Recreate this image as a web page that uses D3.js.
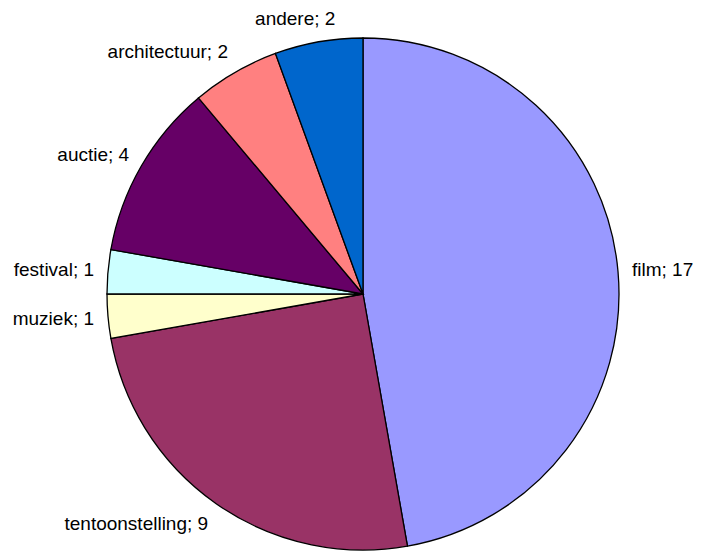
<head>
    <script src="https://cdnjs.cloudflare.com/ajax/libs/d3/7.8.5/d3.min.js"></script>
    <style>
        body { margin: 0; background: #fff; }
        .slice { stroke: #000; stroke-width: 1.3; }
        .label { font-family: "Liberation Sans", Arial, sans-serif; font-size: 19px; fill: #000; }
    </style>
</head>

<body>
    <div id="chart"></div>

    <script>
        const categories = ['film', 'tentoonstelling', 'muziek', 'festival', 'auctie', 'architectuur', 'andere'];
        const values = [17, 9, 1, 1, 4, 2, 2];
        const colors = ['#9999FF', '#993366', '#FFFFCC', '#CCFFFF', '#660066', '#FF8080', '#0066CC'];

        const width = 701;
        const height = 551;
        const cx = 363, cy = 294, radius = 256;
        const labelRadius = 270;

        const data = categories.map((c, i) => ({ name: c, value: values[i], color: colors[i] }));

        const svg = d3.select('#chart').append('svg')
            .attr('width', width)
            .attr('height', height);

        const pie = d3.pie().value(d => d.value).sort(null);
        const arc = d3.arc().innerRadius(0).outerRadius(radius);

        const g = svg.append('g').attr('transform', `translate(${cx},${cy})`);

        const arcs = pie(data);

        g.selectAll('.slice')
            .data(arcs)
            .enter().append('path')
                .attr('class', 'slice')
                .attr('fill', d => d.data.color)
                .attr('d', arc);

        // labels outside, nearest side of the box facing the pie
        g.selectAll('.label')
            .data(arcs)
            .enter().append('text')
                .attr('class', 'label')
                .attr('dominant-baseline', 'central')
                .attr('text-anchor', 'middle')
                .text(d => `${d.data.name}; ${d.data.value}`)
                .each(function(d) {
                    const a = (d.startAngle + d.endAngle) / 2;
                    const s = Math.sin(a), c = Math.cos(a);
                    const w = this.getComputedTextLength();
                    const h = 20;
                    const px = labelRadius * s, py = -labelRadius * c;
                    const k = Math.max(-1, Math.min(1, s * 3));
                    d3.select(this)
                        .attr('x', px + k * w / 2)
                        .attr('y', py - c * h / 2);
                });
    </script>
</body>
